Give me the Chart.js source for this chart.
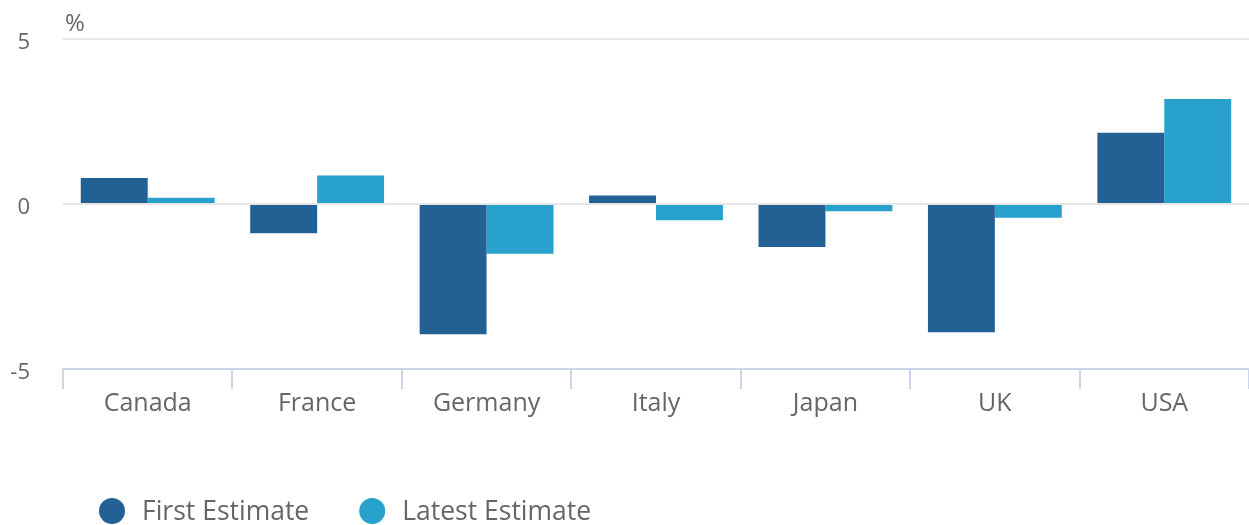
<!DOCTYPE html>
<html>
<head>
<meta charset="utf-8">
<script src="https://cdn.jsdelivr.net/npm/chart.js@4.4.0/dist/chart.umd.min.js"></script>
<style>
  html, body { margin: 0; padding: 0; background: #fff; }
  #wrap { width: 1249px; height: 525px; position: relative; }
</style>
</head>
<body>
<div id="wrap"><canvas id="gdpChart"></canvas></div>
<script>
const countries = ["Canada", "France", "Germany", "Italy", "Japan", "UK", "USA"];
const firstEstimate = [0.79, -0.89, -3.95, 0.26, -1.30, -3.89, 2.16];
const latestEstimate = [0.19, 0.86, -1.51, -0.49, -0.22, -0.42, 3.18];
const yTicks = [-5, 0, 5];
const unitLabel = "%";

const FONT = "'Open Sans', sans-serif";
const TEXT = "#666666";

// Draws the "%" label and the legend at the bottom
const extrasPlugin = {
  id: "extras",
  afterDraw(chart) {
    const ctx = chart.ctx;
    ctx.save();
    ctx.fillStyle = TEXT;
    ctx.font = "24px " + FONT;
    ctx.textBaseline = "middle";
    ctx.textAlign = "left";
    ctx.fillText(unitLabel, chart.chartArea.left + 2, 24);

    // legend
    let x = 99;
    const y = 511;
    ctx.font = "26.5px " + FONT;
    chart.data.datasets.forEach(ds => {
      ctx.fillStyle = ds.backgroundColor;
      ctx.beginPath();
      ctx.arc(x + 13, y, 13, 0, Math.PI * 2);
      ctx.fill();
      ctx.fillStyle = TEXT;
      ctx.fillText(ds.label, x + 43, y + 1);
      x += 43 + ctx.measureText(ds.label).width + 50;
    });
    ctx.restore();
  }
};

new Chart(document.getElementById("gdpChart"), {
  type: "bar",
  data: {
    labels: countries,
    datasets: [
      { label: "First Estimate", data: firstEstimate, backgroundColor: "#236195" },
      { label: "Latest Estimate", data: latestEstimate, backgroundColor: "#28a2cd" }
    ]
  },
  options: {
    responsive: true,
    maintainAspectRatio: false,
    animation: false,
    layout: { padding: { top: 39, bottom: 96, left: 0, right: 0 } },
    datasets: { bar: { categoryPercentage: 0.79, barPercentage: 1.0 } },
    plugins: { legend: { display: false }, tooltip: { enabled: false } },
    scales: {
      x: {
        grid: { drawOnChartArea: false, color: "#ccd6eb", lineWidth: 2, tickLength: 20 },
        border: { color: "#ccd6eb", width: 2 },
        ticks: { color: TEXT, font: { family: FONT, size: 25 }, padding: 0, maxRotation: 0 },
        afterFit(scale) { scale.height = 60; }
      },
      y: {
        min: -5,
        max: 5,
        afterBuildTicks(scale) { scale.ticks = yTicks.map(v => ({ value: v })); },
        grid: { color: "#e6e6e6", lineWidth: 2, drawTicks: false },
        border: { display: false },
        ticks: { color: TEXT, font: { family: FONT, size: 22 }, padding: 33, labelOffset: 4 },
        afterFit(scale) {
          scale.width = 63;
          // tick padding is only horizontal here, don't let it push the plot down
          scale.paddingTop = 0;
          scale.paddingBottom = 0;
        }
      }
    }
  },
  plugins: [extrasPlugin]
});
</script>
</body>
</html>
